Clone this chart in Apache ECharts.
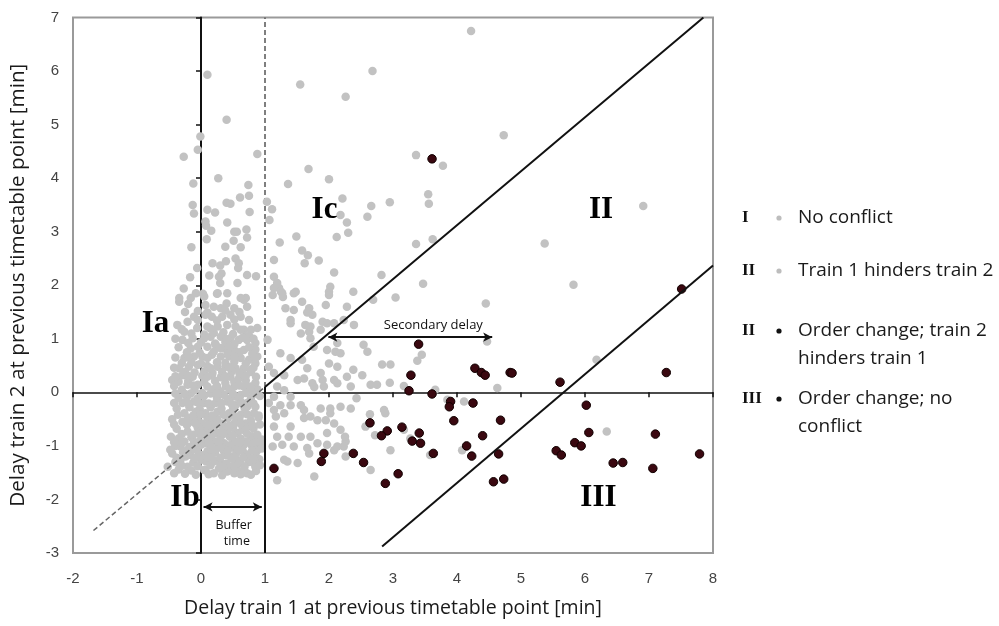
<!DOCTYPE html>
<html><head><meta charset="utf-8">
<script src="https://cdn.jsdelivr.net/npm/echarts@6/dist/echarts.min.js"></script>
<style>html,body{margin:0;padding:0;background:#fff}#c{width:999px;height:626px}</style>
</head><body><div id="c"></div>
<script>
// ---------------- DATA ----------------
const xTitle = 'Delay train 1 at previous timetable point [min]';
const yTitle = 'Delay train 2 at previous timetable point [min]';

// light grey points (classes I and II, "no conflict" / "train 1 hinders train 2")
const greyPoints = [
 [0.10,5.93],[0.40,5.09],[-0.01,4.78],[-0.05,4.53],[-0.27,4.40],[0.88,4.45],[1.55,5.75],[2.26,5.52],[2.68,6.00],[4.22,6.75],
 [4.73,4.80],[3.36,4.43],[3.78,4.23],[1.68,4.17],[2.00,3.98],[1.36,3.89],[0.27,4.00],[-0.12,3.90],[0.74,3.87],
 [-0.13,3.50],[-0.11,3.34],[0.10,3.41],[0.22,3.36],[0.40,3.54],[0.46,3.52],[0.61,3.64],[0.75,3.67],[0.76,3.37],[1.03,3.56],[1.11,3.42],[1.07,3.22],
 [2.21,3.62],[2.18,3.31],[2.28,3.17],[2.30,2.98],[2.12,2.90],[3.55,3.70],[3.56,3.52],[2.95,3.55],[2.66,3.48],[2.60,3.28],[3.36,2.77],[3.62,2.86],
 [1.49,2.91],[1.23,2.80],[1.58,2.65],[1.67,2.56],[1.62,2.41],[1.84,2.46],[2.08,2.24],[2.02,1.97],[1.45,1.85],[1.14,2.47],
 [0.07,3.19],[0.08,3.11],[0.16,3.02],[0.41,3.17],[0.52,3.00],[0.56,3.00],[0.71,3.04],[0.72,2.89],[0.51,2.83],[0.09,2.86],[0.38,2.72],[-0.15,2.71],[0.62,2.71],
 [0.18,2.41],[0.30,2.37],[0.39,2.45],[0.54,2.50],[0.59,2.41],[0.58,2.32],[0.72,2.19],[0.86,2.17],[-0.06,2.32],[-0.17,2.15],[0.13,2.18],[0.28,2.16],[0.32,2.22],
 [0.30,2.04],[0.57,2.04],[-0.27,1.94],[1.14,2.16],[1.19,2.04],[1.22,1.95],[1.14,1.95],[2.00,1.88],[1.25,1.88],
 [-0.08,1.85],[0.03,1.84],[0.25,1.84],[0.41,1.85],[0.70,1.76],[-0.34,1.76],
 [2.82,2.19],[3.47,2.03],[3.04,1.77],[2.38,1.88],[2.69,1.73],[5.37,2.78],[6.91,3.48],[5.82,2.01],[4.45,1.66],[2.39,1.26],
 [4.47,0.95],[2.54,0.89],[2.60,0.76],[2.83,0.52],[2.96,0.52],[3.38,0.59],[3.45,0.70],[2.65,0.14],[2.75,0.14],[2.95,0.18],[3.17,0.12],[3.66,0.05],[4.63,0.08],
 [2.34,-0.30],[2.86,-0.33],[2.88,-0.39],[2.64,-0.41],[3.85,-0.14],[4.11,-0.17],[2.57,-0.64],[2.72,-0.80],[3.17,-0.70],[3.27,-0.86],[2.96,-1.08],[4.08,-1.08],
 [3.58,-1.17],[2.65,-1.45],[6.34,-0.73],[6.18,0.61],[2.38,0.42],[2.52,0.32],[2.43,-0.11],
 [0.67,1.73],[1.12,1.82],[1.27,1.85],[1.28,1.78],[1.48,1.88],[1.58,1.69],[1.69,1.57],[1.74,1.45],[1.90,1.32],[1.97,1.29],[2.00,1.82],[1.32,1.57],[1.40,1.29],
 [1.63,1.26],[1.69,1.13],[1.71,1.01],[0.78,1.17],[0.88,1.20],[0.70,1.04],[0.85,0.92],[1.04,0.98],[0.88,0.67],[0.85,0.54],[0.78,0.42],[0.67,0.32],[1.06,0.48],
 [1.14,0.36],[1.24,0.73],[1.40,0.64],[1.58,0.61],[1.30,0.32],[1.51,0.23],[1.61,0.26],[1.74,0.17],[1.90,0.23],[2.00,0.54],[2.10,0.76],[2.18,0.73],[2.13,0.17],
 [1.92,0.11],[1.77,0.10],[1.19,0.11],[1.30,0.04],[1.14,-0.08],[1.06,-0.20],[1.14,-0.33],[1.24,-0.24],[1.40,-0.24],[1.56,-0.24],[1.17,-0.45],[1.30,-0.39],
 [1.61,-0.48],[1.71,-0.45],[1.87,-0.30],[2.02,-0.30],[2.08,-0.58],[1.95,-0.52],[1.40,-0.64],[1.14,-0.64],[1.19,-0.83],[1.37,-0.83],[1.56,-0.83],[1.71,-0.83],
 [1.82,-0.95],[1.97,-0.76],[2.18,-0.70],[2.26,-0.92],[1.27,-0.98],[1.45,-1.01],[1.12,-1.01],[0.72,-0.64],[0.78,-0.83],[0.67,-0.98],[0.85,-1.01],[0.62,-0.17],
 [0.72,-0.27],[0.83,-0.39],[0.70,0.11],[0.83,0.04],
 [1.69,-1.14],[2.08,-1.08],[2.23,-1.01],[1.30,-1.26],[1.51,-1.32],[1.77,-1.57],[1.19,-1.64],[2.25,-0.83],[2.26,-1.20],[1.61,-0.33],[1.82,-0.52],[2.02,-0.39],
 [2.18,-0.27],[1.40,-0.08],[2.08,0.23],[2.34,0.11],[1.66,0.45],[1.87,0.36],[2.13,0.48],[2.28,0.29],[1.76,0.85],[1.97,0.79],[2.13,0.92],[1.56,1.10],[1.71,1.23],
 [1.87,1.17],[2.08,1.29],[2.23,1.35],[1.40,1.35],[1.45,1.54],[1.66,1.49],[1.95,1.63],[2.28,1.60],[1.66,-1.04],[1.97,-0.98],[2.13,-1.01],[1.35,-1.29],
 [-0.32,-1.01],[-0.16,-1.17],[-0.21,-1.39],[0.00,-1.26],[0.15,-1.20],[0.31,-1.32],[0.46,-1.20],[0.62,-1.32],[0.78,-1.23],[0.88,-1.08],[0.07,-1.45],[0.20,-1.51],
 [0.41,-1.48],[0.57,-1.45],[0.72,-1.51],[-0.42,-1.51],[-0.08,-1.54],[0.26,-1.04],[0.52,-1.04],[-0.05,-1.04],[0.10,-1.10],[0.36,-1.10],[0.65,-1.08],[0.85,-1.39],
 [-0.32,-1.36],[-0.24,-1.20],[0.36,-1.45],[0.52,-1.51],[0.67,-1.48],[0.78,-1.54],[0.85,-1.36],[-0.32,-1.26],[-0.52,-1.39],[0.05,-1.45],
 [-0.34,1.69],[-0.16,1.76],[0.05,1.79],[0.26,1.85],[0.62,1.76],[0.07,1.63],[0.20,1.60],[0.31,1.57],[0.52,1.57],[0.72,1.60],
 [-0.37,1.26],[-0.21,1.32],[-0.11,1.41],[0.07,1.45],[0.17,1.41],[0.33,1.41],[0.46,1.45],[0.62,1.41],[0.75,1.35],
 [-0.26,1.13],[-0.06,1.20],[0.10,1.23],[0.26,1.23],[0.41,1.26],[0.54,1.23],[0.67,1.17],
 [-0.29,0.98],[-0.13,1.01],[0.15,1.04],[0.31,1.04],[0.46,1.01],[0.59,0.98],[0.72,0.98],
 [-0.16,0.82],[0.10,0.85],[0.23,0.89],[0.36,0.82],[0.52,0.79],[0.67,0.79],
 [-0.26,0.64],[-0.11,0.67],[0.02,0.67],[0.17,0.70],[0.31,0.67],[0.44,0.67],[0.62,0.64],[0.75,0.61],
 [-0.34,0.45],[-0.19,0.48],[-0.05,0.51],[0.10,0.49],[0.26,0.48],[0.39,0.48],[0.54,0.45],[0.67,0.45],
 [-0.45,0.23],[-0.29,0.32],[-0.13,0.29],[0.02,0.31],[0.17,0.32],[0.31,0.28],[0.46,0.29],[0.59,0.26],
 [-0.21,0.14],[-0.05,0.14],[0.10,0.11],[0.39,0.11],[0.52,0.11],[0.67,0.11],
 [-0.16,-0.02],[0.15,-0.02],[0.36,-0.05],[0.62,-0.05],
 [-0.29,-0.20],[-0.11,-0.17],[0.05,-0.20],[0.23,-0.20],[0.41,-0.17],[0.54,-0.24],[0.72,-0.20],
 [-0.26,-0.39],[-0.08,-0.36],[0.07,-0.39],[0.26,-0.36],[0.44,-0.39],[0.62,-0.42],
 [-0.29,-0.55],[-0.13,-0.55],[0.02,-0.58],[0.17,-0.55],[0.33,-0.58],[0.52,-0.58],[0.70,-0.58],
 [-0.47,-0.83],[-0.21,-0.73],[-0.05,-0.76],[0.10,-0.73],[0.26,-0.76],[0.41,-0.73],[0.57,-0.76],
 [-0.26,-0.92],[-0.11,-0.92],[0.05,-0.95],[0.20,-0.92],[0.36,-0.95],[0.52,-0.92],[0.70,-0.92],
 [-0.35,-1.44],[-0.15,-1.46],[0.28,-1.42],[0.47,-1.40],[0.86,-1.47],
 [-0.40,-1.30],[-0.12,-1.31],[0.08,-1.29],[0.22,-1.28],[0.40,-1.33],[0.55,-1.27],[0.75,-1.30],[0.91,-1.25],
 [-0.45,-1.14],[-0.28,-1.12],[-0.03,-1.15],[0.05,-1.17],[0.22,-1.13],[0.38,-1.17],[0.55,-1.14],[0.72,-1.16],[0.86,-1.20],
 [-0.40,-1.00],[-0.18,-1.02],[0.00,-0.98],[0.15,-1.00],[0.32,-1.02],[0.45,-0.99],[0.60,-1.01],[0.78,-0.97],[0.93,-0.95],
 [-0.35,-0.86],[-0.15,-0.84],[0.00,-0.87],[0.12,-0.84],[0.30,-0.86],[0.45,-0.83],[0.62,-0.86],[0.80,-0.82],[0.95,-0.88],
 [-0.38,-0.68],[-0.05,-0.66],[0.05,-0.69],[0.20,-0.66],[0.35,-0.68],[0.50,-0.66],[0.65,-0.70],[0.82,-0.67],
 [-0.45,-0.50],[-0.20,-0.48],[-0.05,-0.51],[0.10,-0.47],[0.25,-0.50],[0.42,-0.48],[0.60,-0.50],[0.78,-0.52],[0.90,-0.47],
 [-0.38,-0.30],[-0.18,-0.28],[-0.02,-0.31],[0.15,-0.28],[0.32,-0.30],[0.50,-0.32],[0.68,-0.29],[0.85,-0.27],
 [-0.35,-0.10],[-0.22,-0.08],[-0.05,-0.11],[0.05,-0.06],[0.25,-0.10],[0.45,-0.12],[0.55,-0.08],[0.78,-0.11],[0.92,-0.07],
 [-0.30,0.05],[-0.10,0.04],[0.20,0.06],[0.30,0.02],[0.45,0.05],[0.75,0.04],[0.88,0.06],
 [-0.35,0.20],[-0.20,0.21],[0.05,0.19],[0.22,0.21],[0.38,0.18],[0.52,0.20],[0.70,0.22],[0.85,0.18],
 [-0.25,0.38],[-0.10,0.37],[0.05,0.39],[0.18,0.36],[0.33,0.38],[0.48,0.39],[0.60,0.36],[0.78,0.38],
 [-0.30,0.55],[-0.15,0.56],[0.00,0.54],[0.25,0.56],[0.38,0.55],[0.52,0.57],[0.70,0.54],
 [-0.22,0.75],[-0.02,0.74],[0.20,0.76],[0.42,0.73],[0.60,0.75],[0.80,0.72],
 [-0.20,0.92],[0.00,0.93],[0.22,0.91],[0.38,0.94],[0.52,0.90],[0.85,0.80],
 [-0.15,1.10],[0.05,1.08],[0.20,1.11],[0.35,1.12],[0.50,1.09],[0.75,1.05],
 [-0.25,1.50],[-0.05,1.52],[0.10,1.49],[0.38,1.53],[0.60,1.50],
 [-0.25,-1.52],[0.12,-1.53],[0.33,-1.55],[0.62,-1.53],
 [-0.30,-1.37],[-0.05,-1.38],[0.15,-1.36],[0.33,-1.38],[0.52,-1.37],[0.68,-1.39],[0.92,-1.36],
 [-0.38,-1.22],[-0.10,-1.23],[0.12,-1.21],[0.30,-1.22],[0.48,-1.24],[0.66,-1.21],[0.82,-1.23],
 [-0.48,-1.07],[-0.22,-1.08],[-0.10,-1.06],[0.20,-1.07],[0.42,-1.08],[0.58,-1.06],[0.80,-1.08],[0.95,-1.05],
 [-0.42,-0.93],[-0.30,-0.94],[0.12,-0.93],[0.28,-0.92],[0.60,-0.93],[0.86,-0.91],
 [-0.30,-0.78],[-0.12,-0.79],[0.02,-0.77],[0.18,-0.79],[0.35,-0.78],[0.50,-0.80],[0.72,-0.77],[0.88,-0.79],
 [-0.42,-0.60],[-0.22,-0.61],[-0.08,-0.59],[0.10,-0.61],[0.28,-0.60],[0.44,-0.62],[0.62,-0.59],[0.80,-0.61],[0.92,-0.60],
 [-0.36,-0.42],[-0.12,-0.43],[0.00,-0.41],[0.18,-0.43],[0.35,-0.42],[0.52,-0.44],[0.72,-0.41],[0.90,-0.43],
 [-0.42,-0.20],[-0.20,-0.21],[-0.05,-0.19],[0.12,-0.21],[0.32,-0.20],[0.48,-0.22],[0.62,-0.19],[0.82,-0.21],
 [-0.40,-0.02],[-0.25,-0.03],[0.02,-0.01],[0.25,-0.02],[0.50,-0.03],[0.70,-0.01],[0.82,-0.03],
 [-0.42,0.12],[-0.12,0.13],[0.25,0.12],[0.60,0.13],[0.78,0.11],
 [-0.40,0.30],[-0.20,0.31],[0.10,0.29],[0.38,0.30],[0.70,0.31],[0.86,0.29],
 [-0.42,0.46],[0.15,0.45],[0.45,0.47],[0.82,0.46],
 [-0.40,0.65],[-0.20,0.66],[0.10,0.64],[0.52,0.66],[0.85,0.64],
 [-0.35,0.84],[-0.05,0.85],[0.30,0.83],[0.45,0.86],[0.75,0.84],
 [-0.40,1.00],[0.05,1.01],[0.40,0.99],[0.65,1.02],[0.82,1.00],
 [-0.30,1.18],[0.15,1.19],[0.62,1.17],
 [-0.05,1.35],[0.25,1.34],[0.52,1.36],
 [-0.20,1.65],[0.40,1.66]
];

// dark points (order change: classes II and III)
const darkPoints = [
 [3.40,0.90],[3.28,0.32],[3.25,0.03],[3.61,-0.03],[3.90,-0.17],[3.88,-0.27],[3.95,-0.53],[4.25,-0.20],[4.28,0.45],[4.38,0.37],
 [4.44,0.32],[4.83,0.37],[4.86,0.36],[4.68,-0.52],[4.40,-0.81],[4.15,-1.00],[4.23,-1.19],[4.65,-1.15],[4.57,-1.67],[4.73,-1.62],
 [3.63,-1.14],[3.41,-0.76],[3.43,-0.95],[3.30,-0.91],[3.14,-0.65],[2.91,-0.72],[2.82,-0.81],[2.64,-0.57],[3.08,-1.52],[2.88,-1.70],
 [2.54,-1.31],[2.38,-1.14],[5.61,0.19],[6.02,-0.24],[6.06,-0.75],[5.84,-0.94],[5.94,-1.00],[5.55,-1.09],[5.63,-1.17],[6.44,-1.32],
 [6.59,-1.31],[7.06,-1.42],[7.10,-0.78],[7.27,0.37],[7.79,-1.15],[3.61,4.36],[7.51,1.93],[1.14,-1.42],[1.92,-1.14],[1.88,-1.29]
];

// reference lines (data coordinates)
const bufferDashed   = [[1, 0.1], [1, 7]];
const bufferSolid    = [[1, -3], [1, 0.1]];
const upperDiagonal  = [[1, 0.1], [7.85, 7]];
const dashedDiagonal = [[-1.68, -2.58], [1, 0.1]];
const lowerDiagonal  = [[2.83, -2.88], [8, 2.37]];
const secondaryArrow = [[1.99, 1.03], [4.55, 1.03]];
const bufferArrow    = [[0.04, -2.14], [0.95, -2.14]];

const regionLabels = [[-0.71, 1.28, 'Ia'], [-0.25, -1.97, 'Ib'], [1.93, 3.41, 'Ic'], [6.25, 3.41, 'II'], [6.21, -1.97, 'III']];
const noteLabels = [[3.63, 1.25, 'Secondary delay'], [0.51, -2.48, 'Buffer'], [0.56, -2.79, 'time']];

const legendNumerals = ['I', 'II', 'II', 'III'];
const legendLabels = [['No conflict'], ['Train 1 hinders train 2'], ['Order change; train 2', 'hinders train 1'], ['Order change; no', 'conflict']];
const legendDark = [false, false, true, true];

// ---------------- CHART ----------------
const chart = echarts.init(document.getElementById('c'), null, {renderer: 'canvas'});
const GREY = '#c2c2c2', DARK = '#3a0810';
function lineSeries(pts, color, width, type, z) {
  return {type: 'line', data: pts, symbol: 'none', silent: true, z: z, animation: false,
          lineStyle: {color: color, width: width, type: type}};
}

const option = {
  backgroundColor: '#fff',
  animation: false,
  grid: {left: 72, right: 286, top: 17.5, bottom: 73, show: true, borderColor: '#9a9a9a', borderWidth: 2, backgroundColor: 'transparent'},
  xAxis: [
    {type: 'value', min: -2, max: 8, interval: 1, position: 'bottom',
     axisLine: {show: false, onZero: false}, axisTick: {show: false}, splitLine: {show: false},
     axisLabel: {color: '#444', fontSize: 15, fontFamily: 'Liberation Sans', margin: 18},
     name: xTitle, nameLocation: 'middle', nameGap: 45,
     nameTextStyle: {fontFamily: 'Open Sans', fontSize: 19.5, color: '#1a1a1a'}},
    {type: 'value', min: -2, max: 8, interval: 1, position: 'bottom',
     axisLine: {show: true, onZero: true, lineStyle: {color: '#111', width: 1.5}},
     axisTick: {show: true, length: 5, lineStyle: {color: '#111', width: 1.5}},
     axisLabel: {show: false}, splitLine: {show: false}}
  ],
  yAxis: [
    {type: 'value', min: -3, max: 7, interval: 1, position: 'left',
     axisLine: {show: false, onZero: false}, axisTick: {show: false}, splitLine: {show: false},
     axisLabel: {color: '#444', fontSize: 15, fontFamily: 'Liberation Sans', margin: 14},
     name: yTitle, nameLocation: 'middle', nameGap: 44, nameRotate: 90,
     nameTextStyle: {fontFamily: 'Open Sans', fontSize: 20.7, color: '#1a1a1a'}},
    {type: 'value', min: -3, max: 7, interval: 1, position: 'left',
     axisLine: {show: true, onZero: true, lineStyle: {color: '#111', width: 2}},
     axisTick: {show: true, length: 5, lineStyle: {color: '#111', width: 1.5}},
     axisLabel: {show: false}, splitLine: {show: false}}
  ],
  series: [
    lineSeries(bufferDashed, '#555', 1.5, [5, 3], 1),
    {type: 'scatter', name: 'grey', data: greyPoints, symbolSize: 8.5, z: 2, silent: true,
     itemStyle: {color: GREY, opacity: 1}},
    {type: 'scatter', name: 'dark', data: darkPoints, symbolSize: 8.5, z: 2, silent: true,
     itemStyle: {color: DARK, opacity: 1, borderColor: '#100000', borderWidth: 1}},
    lineSeries(bufferSolid, '#111', 2, 'solid', 3),
    lineSeries(upperDiagonal, '#111', 2, 'solid', 3),
    lineSeries(dashedDiagonal, '#666', 1.5, [5, 3], 3),
    lineSeries(lowerDiagonal, '#111', 2, 'solid', 3),
    {type: 'line', data: [], z: 4, silent: true,
     markLine: {silent: true, symbol: ['arrow', 'arrow'], symbolSize: [7, 9], animation: false,
       lineStyle: {color: '#111', width: 2, type: 'solid'}, label: {show: false},
       data: [
         [{coord: secondaryArrow[0]}, {coord: secondaryArrow[1]}],
         [{coord: bufferArrow[0]}, {coord: bufferArrow[1]}]
       ]}}
  ]
};
chart.setOption(option);

// text annotations placed through the chart's own coordinate conversion
const toPx = p => chart.convertToPixel({xAxisIndex: 0, yAxisIndex: 0}, p);
const graphics = [];
regionLabels.forEach(d => {
  const p = toPx([d[0], d[1]]);
  graphics.push({type: 'text', x: p[0], y: p[1], z: 10,
    style: {text: d[2], font: 'bold 31px "Liberation Serif"', fill: '#000', align: 'center', verticalAlign: 'middle'}});
});
noteLabels.forEach((d, i) => {
  const p = toPx([d[0], d[1]]);
  graphics.push({type: 'text', x: p[0], y: p[1], z: 10,
    style: {text: d[2], font: (i === 0 ? 13 : 12.5) + 'px "Open Sans"', fill: '#111', align: 'center', verticalAlign: 'middle'}});
});
const legendRowY = [218, 271, 331, 399];
legendNumerals.forEach((n, i) => {
  const y = legendRowY[i];
  graphics.push({type: 'text', x: 742, y: y, style: {text: n, font: 'bold 17px "Liberation Serif"', fill: '#111', verticalAlign: 'middle'}});
  graphics.push({type: 'circle', shape: {cx: 779, cy: y, r: 2.6}, style: {fill: legendDark[i] ? '#111' : '#bdbdbd'}});
  legendLabels[i].forEach((t, j) => {
    graphics.push({type: 'text', x: 798, y: y + j * 28, style: {text: t, font: '19px "Open Sans"', fill: '#1a1a1a', verticalAlign: 'middle'}});
  });
});
chart.setOption({graphic: graphics});
</script>
</body></html>
